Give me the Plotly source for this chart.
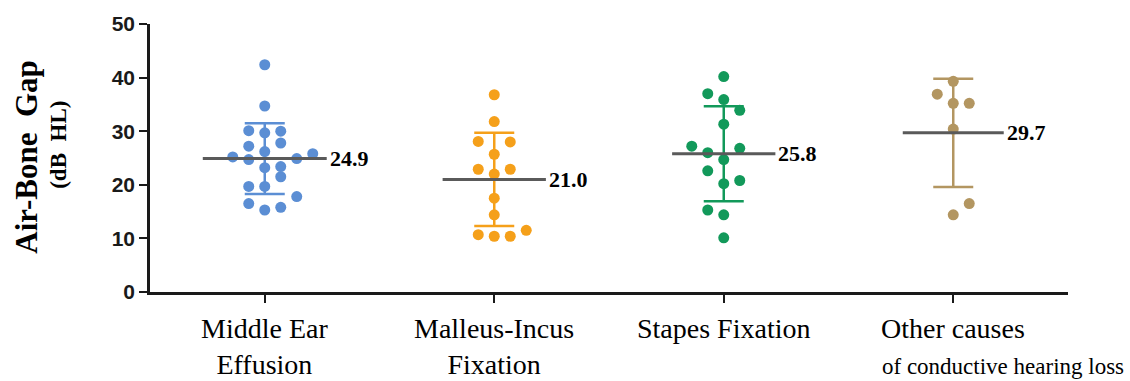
import plotly.graph_objects as go

# ---------------- data ----------------
categories = ["Middle Ear Effusion", "Malleus-Incus Fixation", "Stapes Fixation",
              "Other causes of conductive hearing loss"]

mee_values = [42.4, 34.7, 30.1, 29.7, 30.0, 27.2, 27.8, 26.2, 25.2, 24.7, 24.9,
              25.8, 23.2, 23.4, 21.5, 19.7, 19.7, 17.8, 16.5, 15.3, 15.8]
mee_slot = [0, 0, -1, 0, 1, -1, 1, 0, -2, -1, 2, 3, 0, 1, 1, -1, 0, 2, -1, 0, 1]

mif_values = [36.8, 31.8, 28.1, 28.0, 25.7, 22.9, 22.9, 22.0, 17.5, 14.4,
              10.7, 10.4, 10.4, 11.5]
mif_slot = [0, 0, -1, 1, 0, -1, 1, 0, 0, 0, -1, 0, 1, 2]

sf_values = [40.2, 37.0, 35.9, 33.9, 31.3, 27.2, 26.8, 26.0, 24.7, 22.6,
             20.2, 20.8, 15.3, 14.4, 10.1]
sf_slot = [0, -1, 0, 1, 0, -2, 1, -1, 0, -1, 0, 1, -1, 0, 0]

oc_values = [39.3, 36.9, 35.2, 35.2, 30.4, 16.5, 14.4]
oc_slot = [0, -1, 0, 1, 0, 1, 0]

means = [24.9, 21.0, 25.8, 29.7]
sds = [6.6, 8.7, 8.85, 10.1]
mean_labels = ["24.9", "21.0", "25.8", "29.7"]

y_ticks = [0, 10, 20, 30, 40, 50]

# ---------------- style ----------------
colors = ["#5b8ed4", "#f5a01a", "#12995a", "#b39661"]
mean_color = "#5a5a5a"
slot_step = 0.0697
mean_half = [0.27, 0.225, 0.225, 0.22]
serif = "Liberation Serif, Times New Roman, serif"
sans = "Liberation Sans, Arial, sans-serif"

groups = [(mee_values, mee_slot), (mif_values, mif_slot),
          (sf_values, sf_slot), (oc_values, oc_slot)]

fig = go.Figure()

# dots
for i, (vals, slots) in enumerate(groups):
    fig.add_trace(go.Scatter(
        x=[i + s * slot_step for s in slots], y=vals, mode="markers",
        marker=dict(size=11, color=colors[i], line=dict(width=0)),
        showlegend=False, hoverinfo="y", cliponaxis=False))

# error bars (mean ± SD)
for i in range(4):
    fig.add_trace(go.Scatter(
        x=[i], y=[means[i]], mode="markers",
        marker=dict(size=1, color="rgba(0,0,0,0)"),
        error_y=dict(type="data", array=[sds[i]], visible=True,
                     color=colors[i], thickness=2.5, width=20),
        showlegend=False, hoverinfo="skip"))

# mean lines
for i in range(4):
    fig.add_trace(go.Scatter(
        x=[i - mean_half[i], i + mean_half[i]], y=[means[i], means[i]],
        mode="lines", line=dict(color=mean_color, width=3),
        showlegend=False, hoverinfo="skip"))
    fig.add_annotation(x=i + mean_half[i], y=means[i], xref="x", yref="y",
                       text=mean_labels[i], showarrow=False, xanchor="left",
                       yanchor="middle", xshift=1,
                       font=dict(family=serif, size=22, color="black", weight="bold"))

# x category labels
x_label_texts = ["Middle Ear<br>Effusion", "Malleus-Incus<br>Fixation",
                 "Stapes Fixation", "Other causes"]
for i, t in enumerate(x_label_texts):
    fig.add_annotation(x=i, y=-0.07, xref="x", yref="paper", text=t,
                       showarrow=False, xanchor="center", yanchor="top",
                       font=dict(family=serif, size=28, color="black"))
fig.add_annotation(x=2.681, y=-0.225, xref="x", yref="paper",
                   text="of conductive hearing loss", showarrow=False,
                   xanchor="left", yanchor="top",
                   font=dict(family=serif, size=23, color="black"))

# y-axis titles
fig.add_annotation(x=-0.134, y=0.505, xref="paper", yref="paper",
                   text="Air-Bone  Gap", textangle=-90, showarrow=False,
                   xanchor="center", yanchor="middle",
                   font=dict(family=serif, size=31, color="black", weight="bold"))
fig.add_annotation(x=-0.1, y=0.55, xref="paper", yref="paper",
                   text="(dB  HL)", textangle=-90, showarrow=False,
                   xanchor="center", yanchor="middle",
                   font=dict(family=serif, size=23, color="black", weight="bold"))

fig.update_layout(
    width=1130, height=381,
    margin=dict(l=150, r=62, t=19, b=89),
    paper_bgcolor="white", plot_bgcolor="white",
    showlegend=False,
    xaxis=dict(range=[-0.5, 3.5], tickvals=[0, 1, 2, 3], ticktext=["", "", "", ""],
               showline=True, linecolor="#1a1a1a", linewidth=2.5,
               ticks="outside", ticklen=8, tickwidth=2, tickcolor="#1a1a1a",
               showgrid=False, zeroline=False, fixedrange=True),
    yaxis=dict(range=[0, 50], tickvals=y_ticks,
               showline=True, linecolor="#1a1a1a", linewidth=2.5,
               ticks="outside", ticklen=8, tickwidth=2, tickcolor="#1a1a1a",
               tickfont=dict(family=sans, size=21, color="#1a1a1a", weight="bold"),
               showgrid=False, zeroline=False, fixedrange=True),
)

fig.write_html("out.html", config={"displayModeBar": False},
               post_script="document.body.style.margin='0px';document.body.style.overflow='hidden';")
